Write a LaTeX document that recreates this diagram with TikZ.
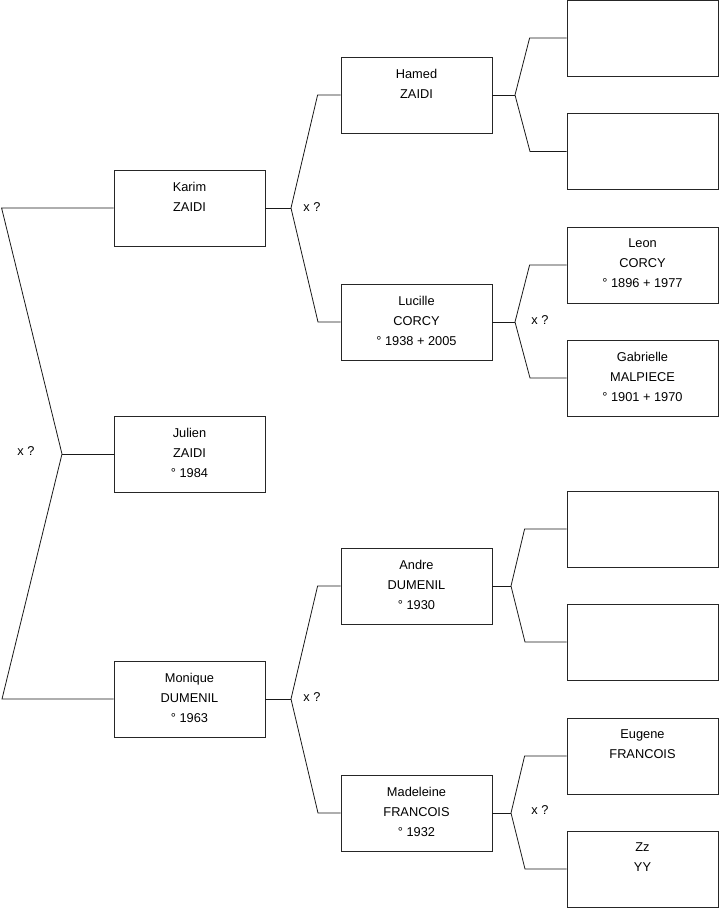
\documentclass[tikz,border=0pt]{standalone}
\usepackage{fontspec}
\setmainfont{Liberation Sans}
\usepackage{tikz}
\usetikzlibrary{positioning,calc}
\usepackage{xcolor}

\tikzset{
  person/.style={draw=black!85, line width=0.8pt, minimum width=151, minimum height=76, inner sep=0},
  who/.style={anchor=north, align=center, inner sep=0, yshift=-12, font=\fontsize{12.8}{20}\selectfont},
  union/.style={font=\fontsize{12.8}{14}\selectfont, inner sep=0},
  link/.style={black!90, line width=0.8pt}
}

\begin{document}
\begin{tikzpicture}[x=1pt, y=-1pt]
\useasboundingbox (0,0) rectangle (719,908);
% Generation 1
\node[person, label={[who]north:{Karim\\ZAIDI}}] (karim) at (189.5,208) {};
\node[person, label={[who]north:{Julien\\ZAIDI\\° 1984}}] (julien) at (189.5,454) {};
\node[person, label={[who]north:{Monique\\DUMENIL\\° 1963}}] (monique) at (189.5,699) {};
% Generation 2
\node[person, label={[who]north:{Hamed\\ZAIDI}}] (hamed) at (416.5,95) {};
\node[person, label={[who]north:{Lucille\\CORCY\\° 1938 + 2005}}] (lucille) at (416.5,322) {};
\node[person, label={[who]north:{Andre\\DUMENIL\\° 1930}}] (andre) at (416.5,586) {};
\node[person, label={[who]north:{Madeleine\\FRANCOIS\\° 1932}}] (madeleine) at (416.5,813) {};
% Generation 3
\node[person] (hamedfa) at (642.5,38) {};
\node[person] (hamedmo) at (642.5,151.5) {};
\node[person, label={[who]north:{Leon\\CORCY\\° 1896 + 1977}}] (leon) at (642.5,265) {};
\node[person, label={[who]north:{Gabrielle\\MALPIECE\\° 1901 + 1970}}] (gabrielle) at (642.5,378) {};
\node[person] (andrefa) at (642.5,529) {};
\node[person] (andremo) at (642.5,642) {};
\node[person, label={[who]north:{Eugene\\FRANCOIS}}] (eugene) at (642.5,756) {};
\node[person, label={[who]north:{Zz\\YY}}] (zz) at (642.5,869) {};
% Forks
\coordinate (fjulien) at (62,454);
\coordinate (fkarim) at (291,208);
\coordinate (fmonique) at (291,699);
\coordinate (fhamed) at (515,95);
\coordinate (flucille) at (515,322);
\coordinate (fandre) at (511,586);
\coordinate (fmadeleine) at (511,813);
% Links
\draw[link] (julien.west) -- (fjulien);
\draw[link] (karim.west) -- ++(-112,0) -- (fjulien) -- ++(-60,245) -- (monique.west);
\draw[link] (karim.east) -- (fkarim);
\draw[link] (hamed.west) -- ++(-23,0) -- (fkarim) -- ++(27,114) -- (lucille.west);
\draw[link] (monique.east) -- (fmonique);
\draw[link] (andre.west) -- ++(-23,0) -- (fmonique) -- ++(27,114) -- (madeleine.west);
\draw[link] (hamed.east) -- (fhamed);
\draw[link] (hamedfa.west) -- ++(-37,0) -- (fhamed) -- ++(15,56.5) -- (hamedmo.west);
\draw[link] (lucille.east) -- (flucille);
\draw[link] (leon.west) -- ++(-37,0) -- (flucille) -- ++(15,56) -- (gabrielle.west);
\draw[link] (andre.east) -- (fandre);
\draw[link] (andrefa.west) -- ++(-42,0) -- (fandre) -- ++(14,56) -- (andremo.west);
\draw[link] (madeleine.east) -- (fmadeleine);
\draw[link] (eugene.west) -- ++(-42,0) -- (fmadeleine) -- ++(14,56) -- (zz.west);
% Unions
\node[union] (ujulien) at (26,451) {x ?};
\node[union] (ukarim) at (312,207) {x ?};
\node[union] (ulucille) at (540,320) {x ?};
\node[union] (umonique) at (312,697) {x ?};
\node[union] (umadeleine) at (540,810) {x ?};
\end{tikzpicture}
\end{document}
